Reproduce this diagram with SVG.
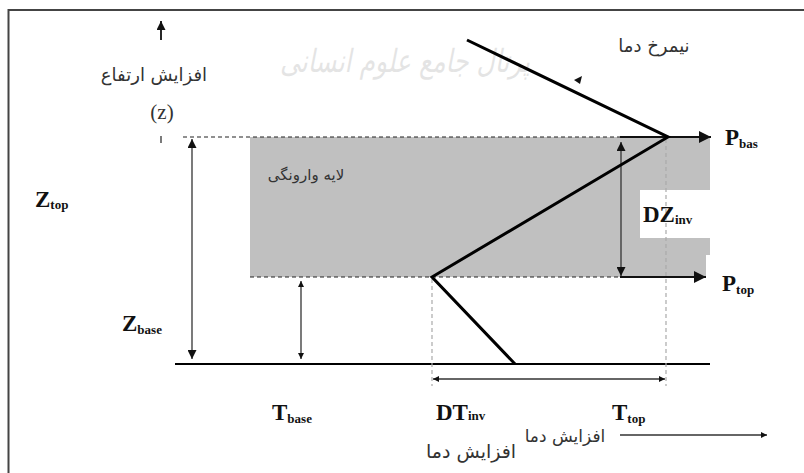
<svg xmlns="http://www.w3.org/2000/svg" width="804" height="473" viewBox="0 0 804 473">
<style>
.lat{font-family:"Liberation Serif","Times New Roman",serif;font-weight:bold;fill:#111}
.big{font-size:23px}
.sub{font-size:13px}
.fa{font-family:"DejaVu Sans",sans-serif;fill:#333}
.thin{stroke:#333;stroke-width:1.3;fill:none}
.dash{stroke:#222;stroke-width:1.2;stroke-dasharray:4 3;fill:none}
.gdash{stroke:#aaa;stroke-width:1.2;stroke-dasharray:4 3;fill:none}
.prof{stroke:#000;stroke-width:3;fill:none;stroke-linejoin:miter}
</style>
<defs>
<marker id="ah" viewBox="0 0 10 10" refX="10" refY="5" markerWidth="6" markerHeight="6" orient="auto-start-reverse" markerUnits="userSpaceOnUse">
<path d="M0,0 L10,5 L0,10 z" fill="#111"/>
</marker>
<marker id="ahb" viewBox="0 0 10 10" refX="10" refY="5" markerWidth="12" markerHeight="12" orient="auto" markerUnits="userSpaceOnUse">
<path d="M0,0 L10,5 L0,10 z" fill="#111"/>
</marker>
<marker id="ahm" viewBox="0 0 10 10" refX="10" refY="5" markerWidth="9" markerHeight="9" orient="auto-start-reverse" markerUnits="userSpaceOnUse">
<path d="M0,0 L10,5 L0,10 z" fill="#111"/>
</marker>
</defs>
<rect width="804" height="473" fill="#fff"/>
<g id="frame">
<path d="M8.5,473 V10 H804" stroke="#444" stroke-width="2" fill="none"/>
</g>
<g id="watermark" opacity="0.1">
<text x="405" y="72" font-family="DejaVu Sans,sans-serif" font-size="32" text-anchor="middle" fill="#000" font-style="italic" textLength="250" lengthAdjust="spacingAndGlyphs">پرتال جامع علوم انسانی</text>
</g>
<g id="inversion-layer">
<path d="M250,137 H710 V190 H640 V238 H710 V255 H706 V277 H250 Z" fill="#c0c0c0"/>
<text class="fa" x="306" y="180" font-size="15" text-anchor="middle">لایه وارونگی</text>
</g>
<g id="connectors">
<path class="dash" d="M183,137 H620"/>
<path class="dash" d="M250,277 H620"/>
<path d="M620,137 H711" stroke="#111" stroke-width="1.8" marker-end="url(#ahb)"/>
<path d="M620,277 H706" stroke="#111" stroke-width="1.8" marker-end="url(#ahb)"/>
<path d="M175,364 H710" stroke="#000" stroke-width="2.2"/>
<path class="thin" d="M192,139 V359" marker-start="url(#ahm)" marker-end="url(#ahm)"/>
<path class="thin" d="M301,281 V359" marker-start="url(#ah)" marker-end="url(#ah)"/>
<path class="thin" d="M621,142 V276" marker-start="url(#ahm)" marker-end="url(#ahm)"/>
<path class="gdash" d="M432,279 V386"/>
<path class="gdash" d="M666,139 V386"/>
<path class="thin" d="M433,379 H665" marker-start="url(#ah)" marker-end="url(#ah)"/>
<path d="M161,40 V21" stroke="#111" stroke-width="1.8" marker-end="url(#ahm)"/>
<path d="M161,136 V143" stroke="#333" stroke-width="1.3"/>
<path class="thin" d="M620,435 H767" marker-end="url(#ah)"/>
</g>
<g id="profile">
<path class="prof" d="M467,40 L668,137 L432,277 L515,364"/>
<path d="M574,80 L582,76 L580,84 Z" fill="#111"/>
<text class="fa" x="654" y="52" font-size="18" text-anchor="middle">نیمرخ دما</text>
</g>
<g id="labels">
<text class="fa" x="154" y="81" font-size="18" text-anchor="middle">افزایش ارتفاع</text>
<text x="162" y="119" font-family="Liberation Serif,serif" font-size="21" text-anchor="middle" fill="#333">(z)</text>
<text class="lat" x="35" y="207"><tspan class="big">Z</tspan><tspan class="sub" dy="2">top</tspan></text>
<text class="lat" x="122" y="331"><tspan class="big">Z</tspan><tspan class="sub" dy="3">base</tspan></text>
<text class="lat" x="272" y="420"><tspan class="big">T</tspan><tspan class="sub" dy="3">base</tspan></text>
<text class="lat" x="436" y="420"><tspan class="big">DT</tspan><tspan class="sub" dy="0">inv</tspan></text>
<text class="lat" x="612" y="420"><tspan class="big">T</tspan><tspan class="sub" dy="3">top</tspan></text>
<text class="lat" x="725" y="145"><tspan class="big">P</tspan><tspan class="sub" dy="3">bas</tspan></text>
<text class="lat" x="722" y="291"><tspan class="big">P</tspan><tspan class="sub" dy="3">top</tspan></text>
<text class="lat" x="643" y="222"><tspan class="big">DZ</tspan><tspan class="sub" dy="2">inv</tspan></text>
<text class="fa" x="565" y="442" font-size="17" text-anchor="middle" fill="#555">افزایش دما</text>
<text class="fa" x="471" y="458" font-size="19" text-anchor="middle">افزایش دما</text>
</g>
</svg>
